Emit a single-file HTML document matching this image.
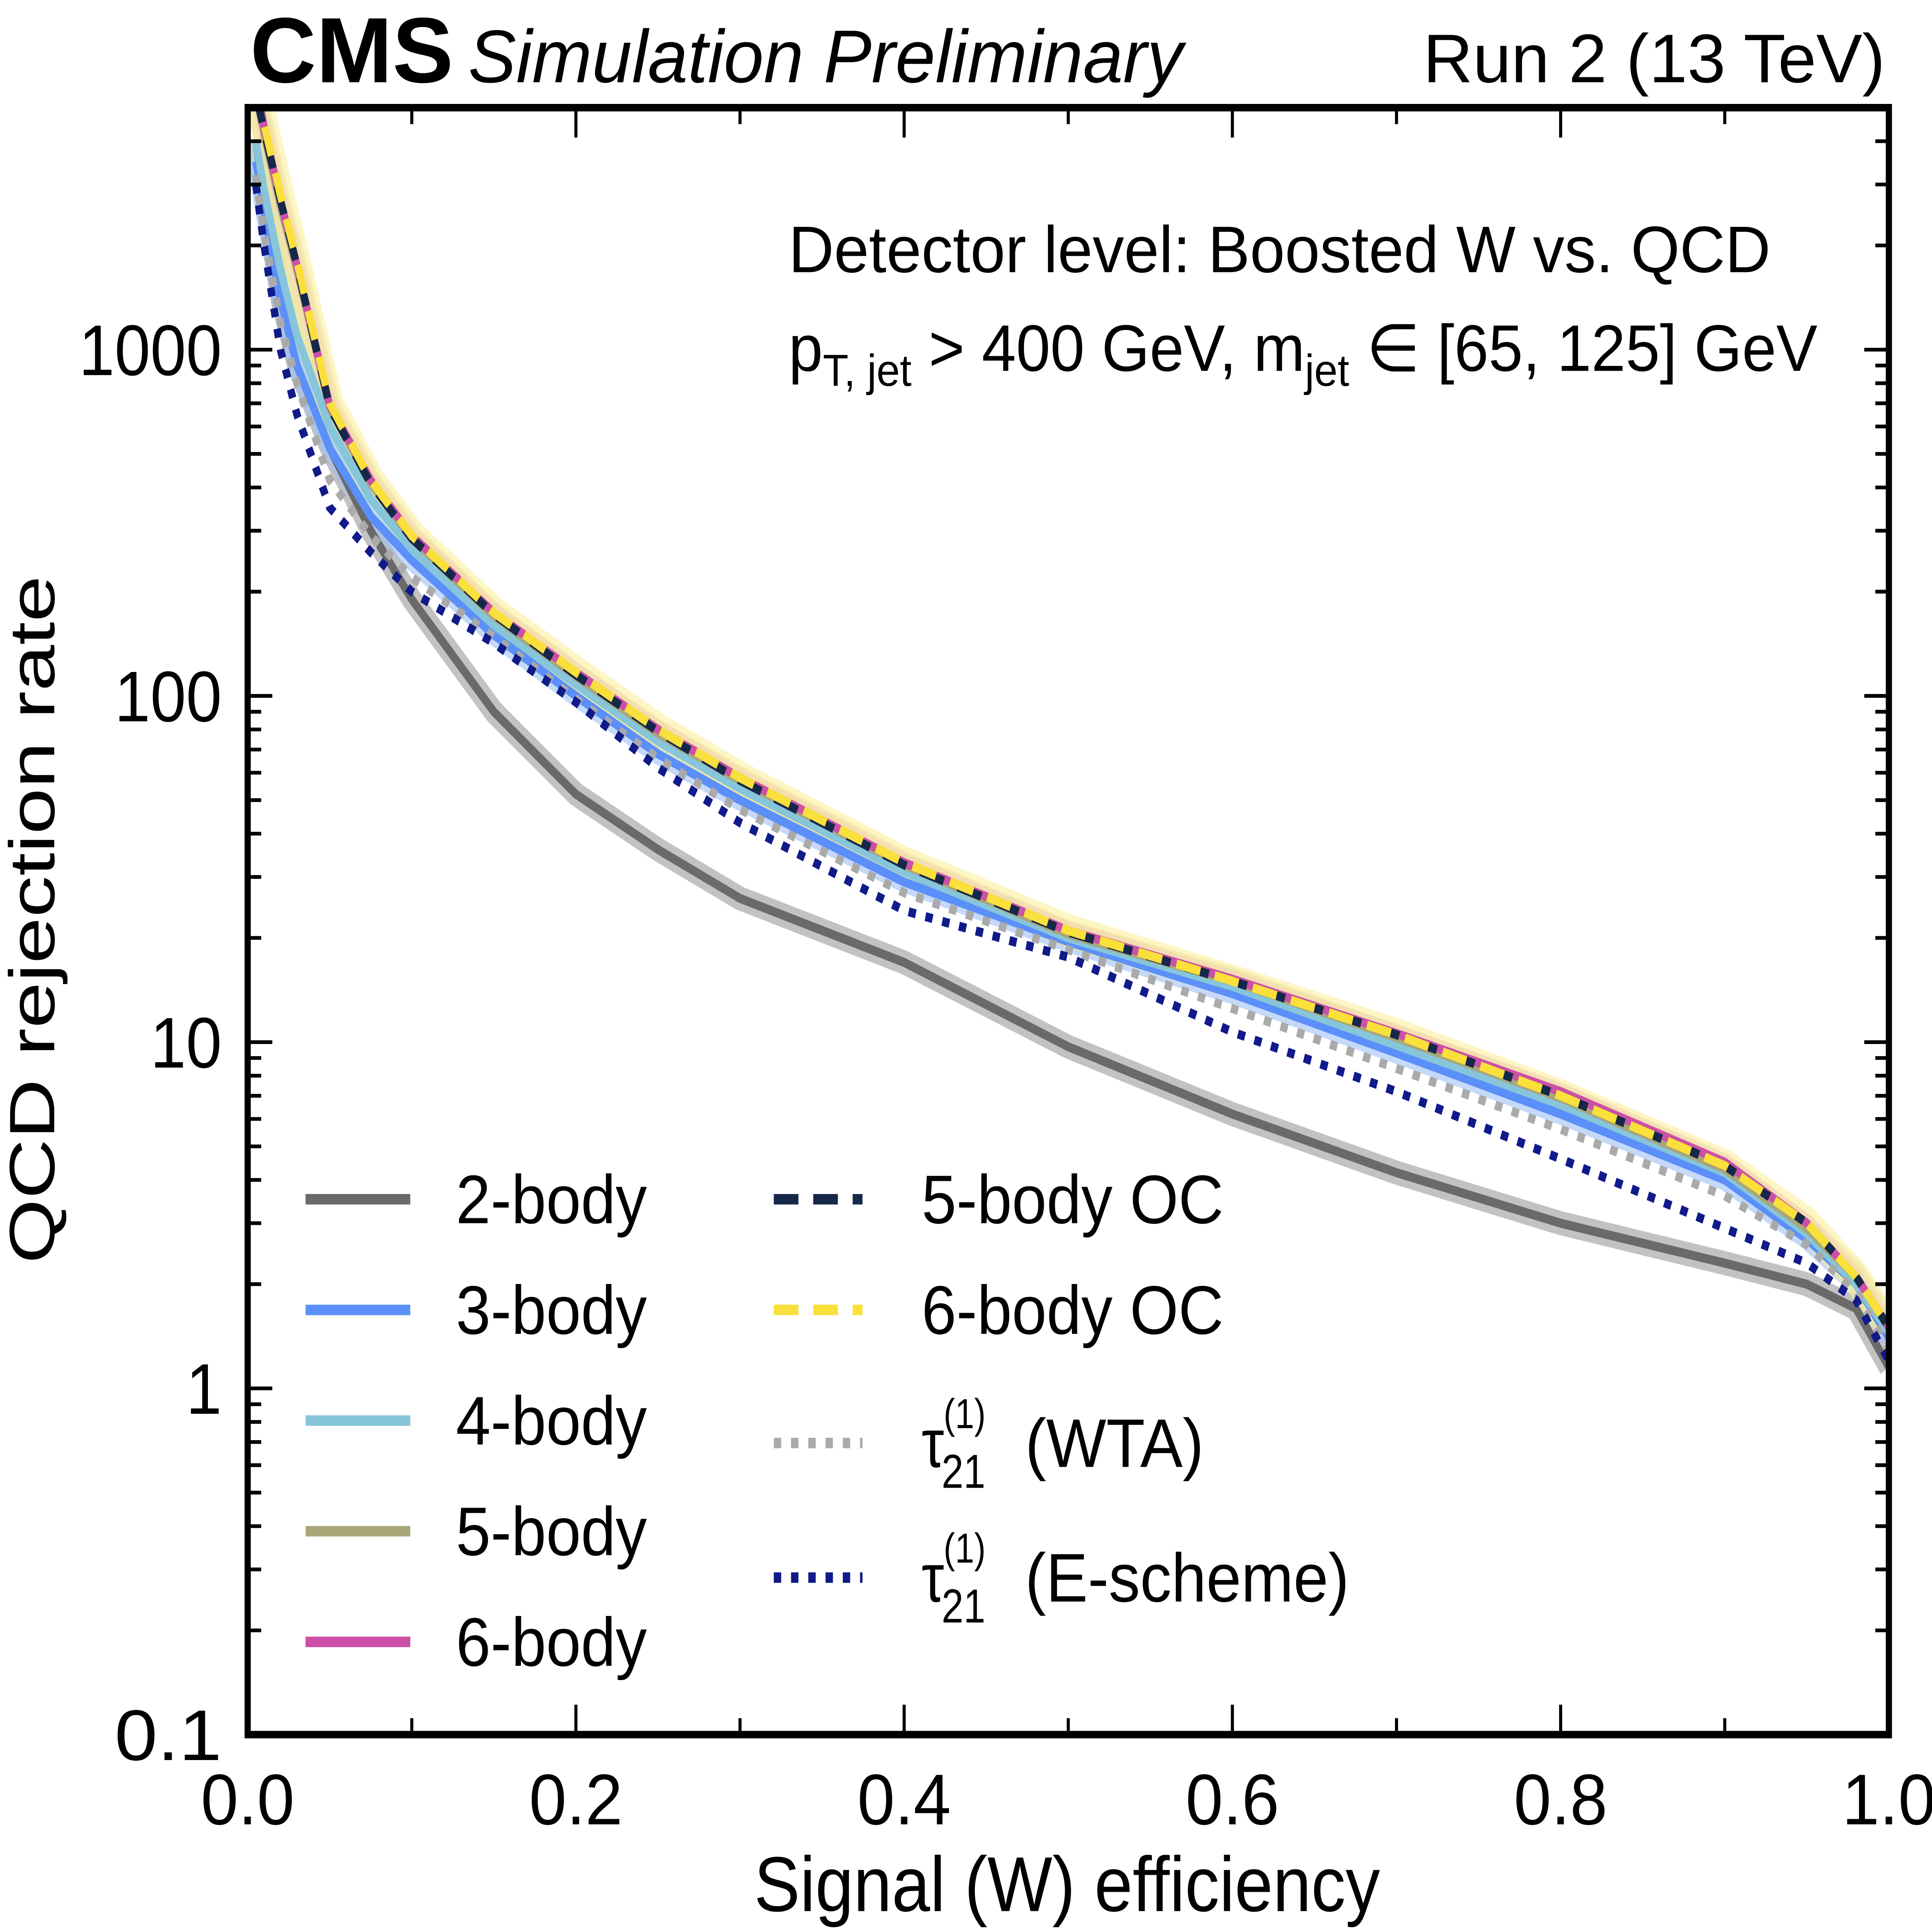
<!DOCTYPE html>
<html><head><meta charset="utf-8"><meta name="viewport" content="width=7144">
<style>html,body{margin:0;padding:0;background:#fff;overflow:hidden;width:100%;height:100%}svg{display:block;position:fixed;left:0;top:0;width:100vw;height:100vh}</style></head>
<body>
<svg id="chart" xmlns="http://www.w3.org/2000/svg" viewBox="0 0 1568 1292" preserveAspectRatio="none" font-family="'Liberation Sans', sans-serif">
<g id="bands"></g>
<g id="lines"></g>
<g id="ticks"></g>
<rect x="201" y="72" width="1332" height="1088" fill="none" stroke="#000" stroke-width="5"/>
<text x="203" y="55" font-size="62" font-weight="bold" textLength="165" lengthAdjust="spacingAndGlyphs">CMS</text>
<text x="380" y="55" font-size="50" font-style="italic" textLength="580" lengthAdjust="spacingAndGlyphs">Simulation Preliminary</text>
<text x="1155" y="55" font-size="46" textLength="375" lengthAdjust="spacingAndGlyphs">Run 2 (13 TeV)</text>
<text x="640" y="182" font-size="44" textLength="797" lengthAdjust="spacingAndGlyphs">Detector level: Boosted W vs. QCD</text>
<text x="640" y="248" font-size="44" textLength="835" lengthAdjust="spacingAndGlyphs">p<tspan font-size="30" dy="10">T, jet</tspan><tspan dy="-10"> &gt; 400 GeV,  m</tspan><tspan font-size="30" dy="10">jet</tspan><tspan dy="-10"> ∈ [65, 125] GeV</tspan></text>
<text x="612" y="1278" font-size="52" textLength="508" lengthAdjust="spacingAndGlyphs">Signal (W) efficiency</text>
<text transform="translate(44,845) rotate(-90)" font-size="52" textLength="460" lengthAdjust="spacingAndGlyphs">QCD rejection rate</text>
<g id="legend"></g>
</svg>
<script>
const xs=[0.005,0.01,0.02,0.03,0.05,0.075,0.1,0.15,0.2,0.25,0.3,0.4,0.5,0.6,0.7,0.8,0.9,0.95,0.98,1.0];
const twoBody=[4000,2800,1400,900,520,300,190,90,52,36,26,17,9.7,6.2,4.2,3.0,2.3,2.0,1.7,1.15];
const threeBody=[3500,2500,1400,900,519,330,247,150,100,68,50,29,19.5,13.8,9.3,6.2,4.0,2.7,2.0,1.4];
const fourBody=[4000,2900,1700,1100,600,370,265,160,108,74,54,31,20,14.5,9.8,6.6,4.2,2.8,2.0,1.45];
const fiveBody=[5500,4200,2600,1700,680,410,285,170,114,78,57,32.5,20.5,15,10.3,6.9,4.3,2.9,2.1,1.5];
const sixBody=[6000,4400,2700,1750,690,420,290,174,117,80,58,33,21,15.2,10.6,7.2,4.5,3.0,2.1,1.5];
const fiveBodyOC=[5500,4300,2700,1750,680,410,285,172,115,79,57,32.5,20.8,15,10.5,7.0,4.4,3.0,2.1,1.5];
const sixBodyOC=[6000,4500,2800,1800,700,420,290,174,117,80,58,33,21,15,10.5,7.0,4.4,3.0,2.1,1.5];
const wta=[3200,2200,1200,800,420,290,220,148,98,66,47,27,18.5,12.5,8.4,5.6,3.6,2.6,1.9,1.3];
const eScheme=[3000,2000,1000,650,350,260,200,142,96,62,43,24,17.6,10.7,7.2,4.6,2.9,2.3,1.8,1.2];
const xTicks=[0,0.2,0.4,0.6,0.8,1.0];
const xTickLabels=["0.0","0.2","0.4","0.6","0.8","1.0"];
const yTicks=[0.1,1,10,100,1000];
const yTickLabels=["0.1","1","10","100","1000"];

const L=201,R=1533,T=72,B=1160,YMIN=0.1,YMAX=5000;
const X=v=>L+(R-L)*v;
const Y=v=>{v=Math.min(Math.max(v,YMIN),YMAX*1.2);return B-(B-T)*Math.log10(v/YMIN)/Math.log10(YMAX/YMIN);};
const NS="http://www.w3.org/2000/svg";
function mk(tag,attrs,parent){const e=document.createElementNS(NS,tag);for(const k in attrs)e.setAttribute(k,attrs[k]);parent.appendChild(e);return e;}
const bands=document.getElementById('bands'),lines=document.getElementById('lines'),ticks=document.getElementById('ticks'),legend=document.getElementById('legend');
const clip=mk('clipPath',{id:'pc'},document.getElementById('chart'));
mk('rect',{x:L,y:T,width:R-L,height:B-T},clip);
bands.setAttribute('clip-path','url(#pc)');lines.setAttribute('clip-path','url(#pc)');
const series=[
 {name:'2-body',vals:twoBody,color:'#6a6a6a',dash:'',band:'#999',bw:16},
 {name:'3-body',vals:threeBody,color:'#5b8ff9',dash:'',band:'#9fc0f5',bw:14},
 {name:'4-body',vals:fourBody,color:'#86c5da',dash:'',band:'#b8dfea',bw:14},
 {name:'5-body',vals:fiveBody,color:'#a9a67a',dash:'',band:'#d8d3a0',bw:18},
 {name:'6-body',vals:sixBody,color:'#cc4fa8',dash:'',band:'#eab0d8',bw:12},
 {name:'5-body OC',vals:fiveBodyOC,color:'#15284a',dash:'20 12',band:null},
 {name:'6-body OC',vals:sixBodyOC,color:'#f9e03a',dash:'20 12',band:'#fbef9c',bw:22},
 {name:'wta',vals:wta,color:'#aaaaaa',dash:'6 8',band:null},
 {name:'e-scheme',vals:eScheme,color:'#101a8a',dash:'6 8',band:null}
];
function pathD(vals){return xs.map((x,i)=>(i?'L':'M')+X(x).toFixed(1)+','+Y(vals[i]).toFixed(1)).join(' ');}
series.forEach(s=>{
 if(s.band){const b=mk('path',{d:pathD(s.vals),fill:'none',stroke:s.band,'stroke-width':s.bw,'stroke-opacity':0.6,'stroke-linejoin':'round'},bands);
  
  }
 const p=mk('path',{d:pathD(s.vals),fill:'none',stroke:s.color,'stroke-width':6,'stroke-dasharray':s.dash,'stroke-linejoin':'round'},lines);
 
 
});
for(let i=0;i<=10;i++){const v=i/10,x=X(v),len=i%2===0?20:11;
 mk('line',{x1:x,y1:B,x2:x,y2:B-len,stroke:'#000','stroke-width':2.5},ticks);
 mk('line',{x1:x,y1:T,x2:x,y2:T+len,stroke:'#000','stroke-width':2.5},ticks);}
xTicks.forEach((v,i)=>{const t=mk('text',{x:X(v),y:1220,'font-size':48,'text-anchor':'middle',textLength:76,lengthAdjust:'spacingAndGlyphs'},ticks);t.textContent=xTickLabels[i];
 
 });
for(let d=-1;d<4;d++){for(let m=1;m<10;m++){const v=m*Math.pow(10,d);if(v>YMAX)break;const y=Y(v),len=m===1?20:11;
 mk('line',{x1:L,y1:y,x2:L+len,y2:y,stroke:'#000','stroke-width':2.5},ticks);
 mk('line',{x1:R,y1:y,x2:R-len,y2:y,stroke:'#000','stroke-width':2.5},ticks);}}
yTicks.forEach((v,i)=>{const t=mk('text',{x:180,y:Y(v)+17,'font-size':48,'text-anchor':'end'},ticks);t.textContent=yTickLabels[i];
 t.setAttribute('textLength',yTickLabels[i].length*29);
 t.setAttribute('lengthAdjust','spacingAndGlyphs');
 
 });
const leg=[
 [248,333,802,370,series[0],'2-body',155],[248,333,876,370,series[1],'3-body',155],[248,333,950,370,series[2],'4-body',155],
 [248,333,1024,370,series[3],'5-body',155],[248,333,1098,370,series[4],'6-body',155],
 [628,700,802,748,series[5],'5-body OC',245],[628,700,876,748,series[6],'6-body OC',245],
 [628,700,965,748,series[7],'WTA',0],[628,700,1055,748,series[8],'E',0]
];
leg.forEach(([x1,x2,y,tx,s,lab,w])=>{
 const g=mk('g',{},legend);
 
 
 mk('line',{x1:x1,y1:y,x2:x2,y2:y,stroke:s.color,'stroke-width':7,'stroke-dasharray':s.dash},g);
 if(lab==='WTA'||lab==='E'){
  const t=mk('text',{x:tx,y:y+16,'font-size':46},g);
  t.innerHTML='τ<tspan font-size="32" dy="14" dx="-2">21</tspan><tspan font-size="28" dy="-40" dx="-34">(1)</tspan>';
  const t2=mk('text',{x:832,y:y+16,'font-size':46,textLength:lab==='WTA'?145:263,lengthAdjust:'spacingAndGlyphs'},g);
  t2.textContent=lab==='WTA'?'(WTA)':'(E-scheme)';
 } else {const t=mk('text',{x:tx,y:y+16,'font-size':46,textLength:w,lengthAdjust:'spacingAndGlyphs'},g);t.textContent=lab;}
});
</script>
</body></html>
